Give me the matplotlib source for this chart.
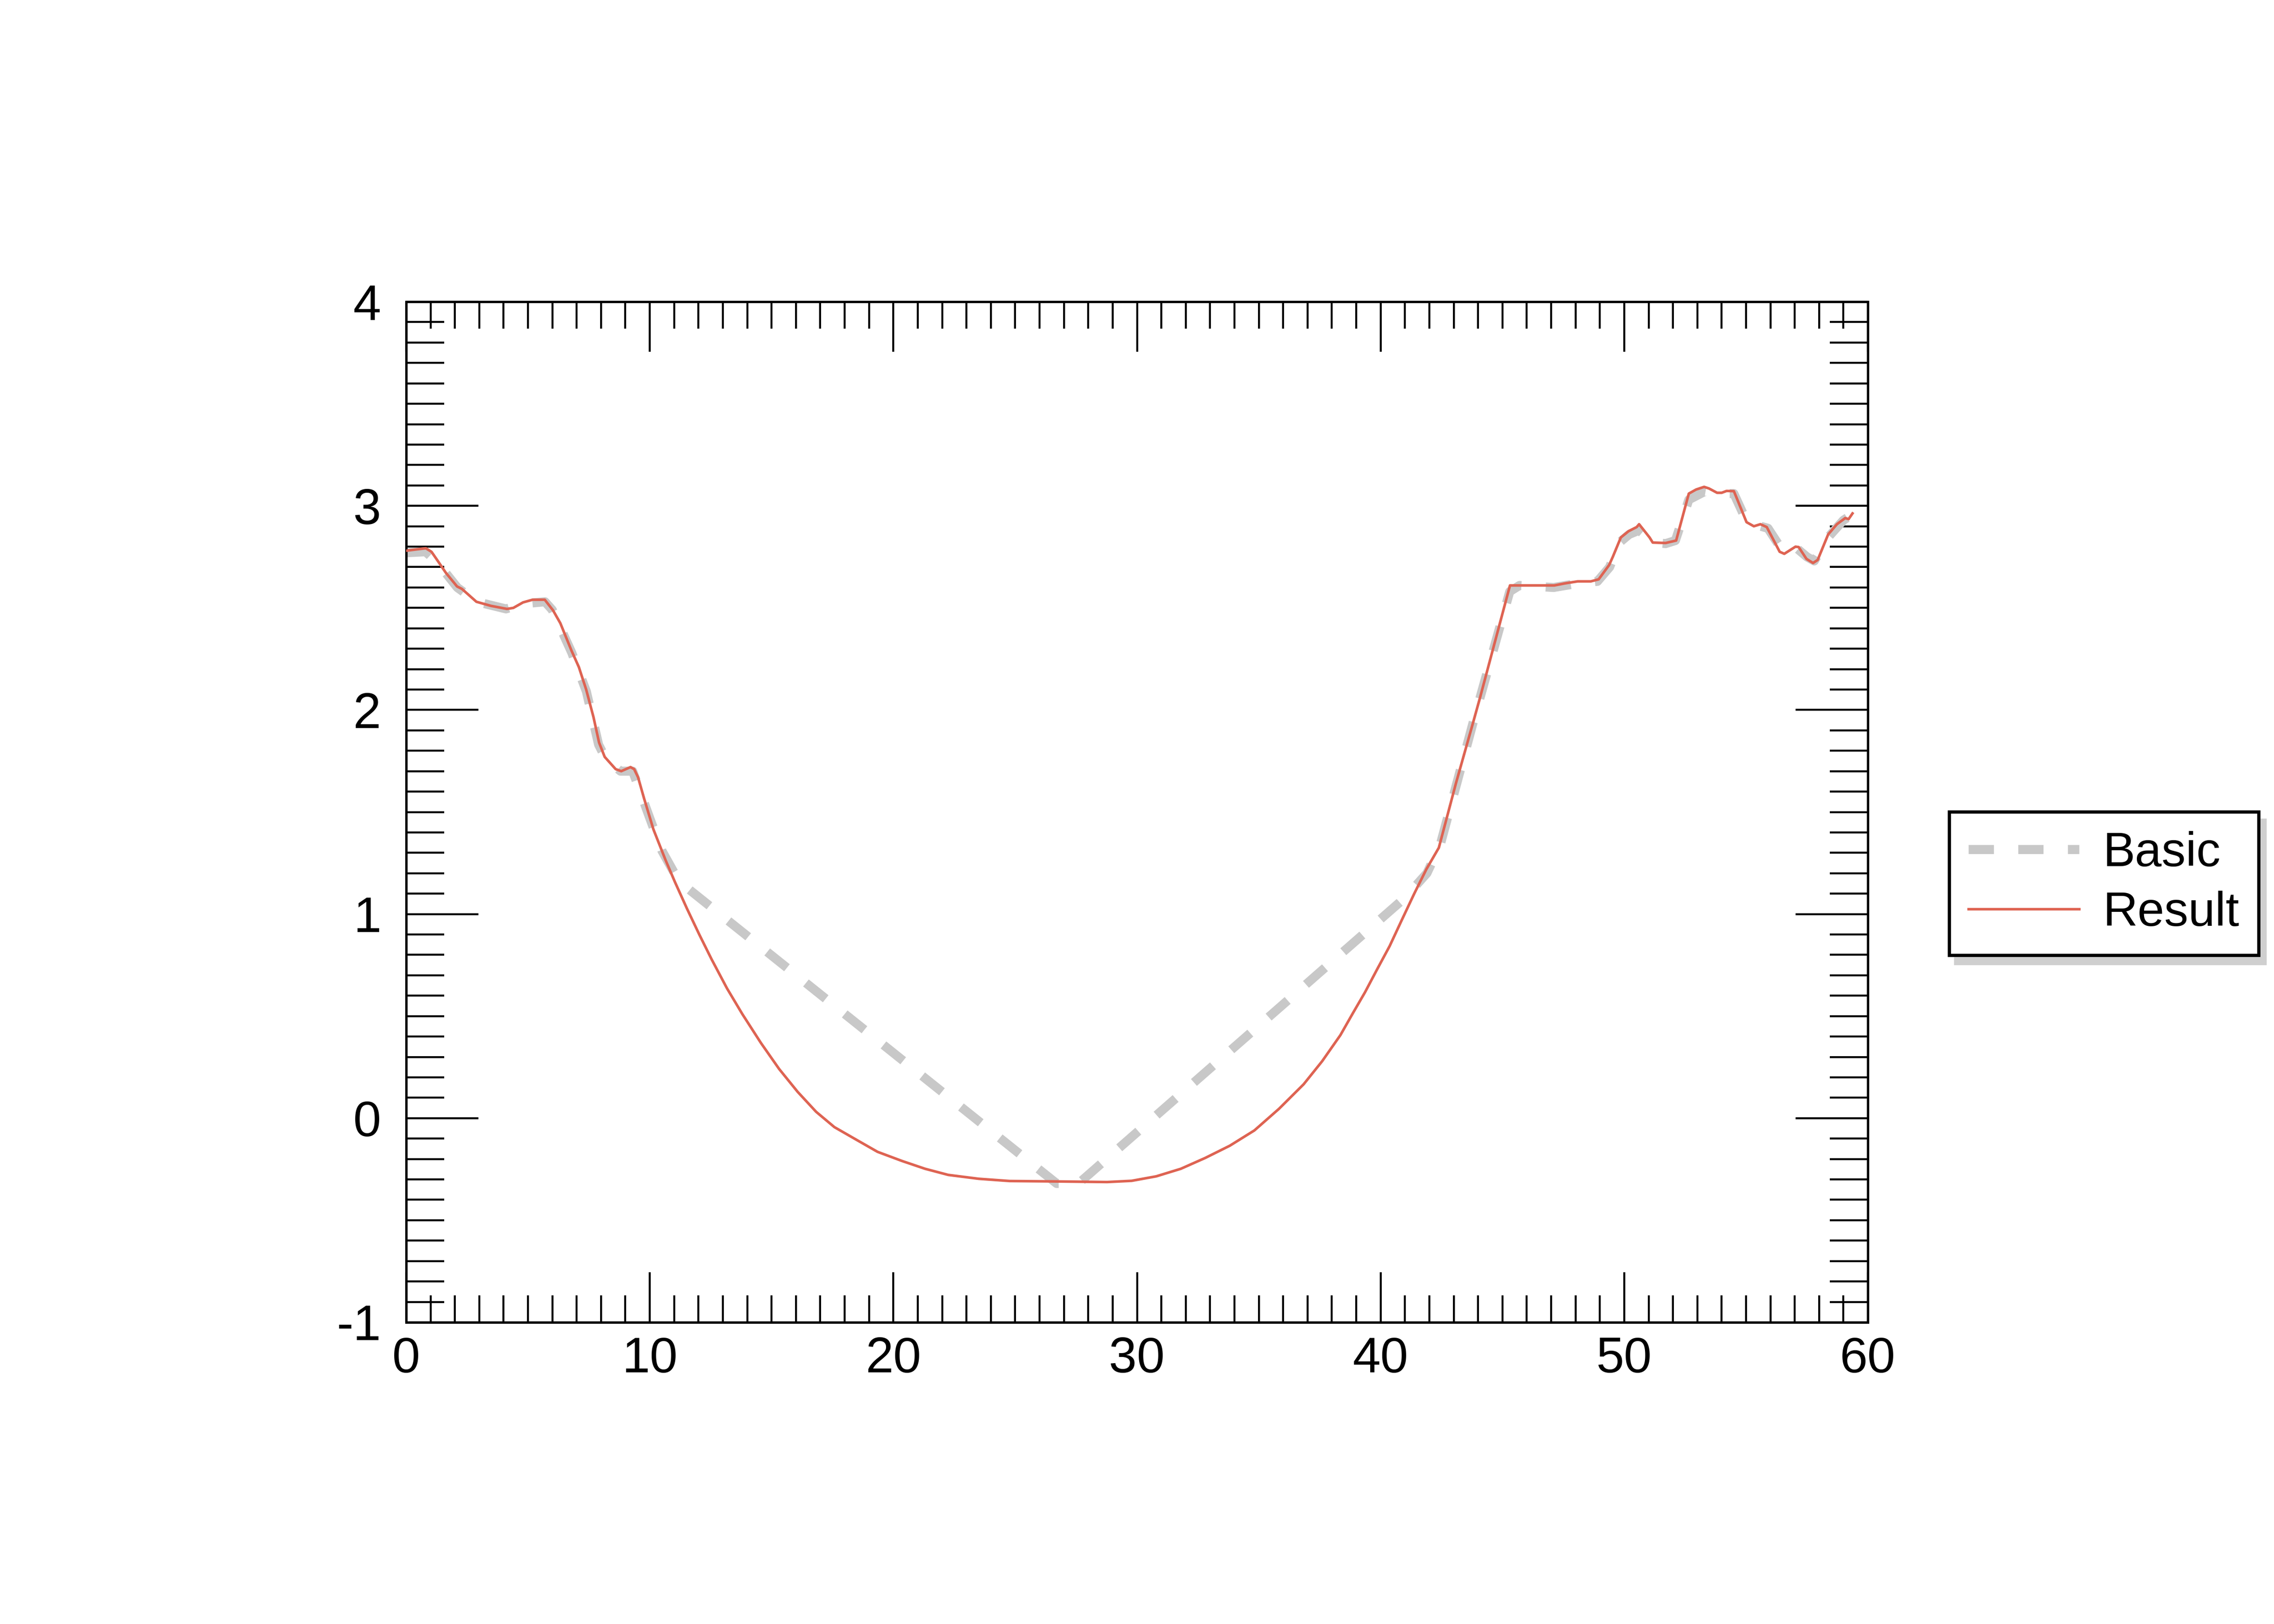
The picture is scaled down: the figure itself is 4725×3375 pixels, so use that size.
import matplotlib
matplotlib.use("Agg")
import matplotlib.pyplot as plt
from matplotlib.ticker import MultipleLocator

plt.rcParams['font.family'] = ['Liberation Sans', 'DejaVu Sans']
plt.rcParams['axes.unicode_minus'] = False

# ---- data ----
result_x = [0.0, 0.45, 0.81, 1.04, 1.30, 1.63, 2.09, 2.29, 2.885, 3.48, 4.14, 4.40, 4.80, 5.19,
            5.69, 6.03, 6.33, 6.79, 7.09, 7.39, 7.69, 7.92, 8.15, 8.60, 8.83, 9.21, 9.36, 9.52,
            9.77, 10.15, 10.65, 11.03, 11.53, 12.04, 12.54, 13.17, 13.80, 14.56, 15.31, 16.07,
            16.83, 17.58, 18.47, 19.35, 20.36, 21.3, 22.25, 23.5, 24.77, 26.66, 28.77, 29.78,
            30.79, 31.8, 32.8, 33.81, 34.82, 35.83, 36.84, 37.6, 38.35, 38.85, 39.36, 39.86,
            40.37, 40.87, 41.38, 41.88, 42.39, 43.09, 43.8,
            44.08, 45.31, 45.73, 47.13, 47.56, 48.09, 48.63, 48.95, 49.38, 49.53, 49.86, 50.18,
            50.51, 50.61, 51.04, 51.17, 51.7, 52.13, 52.65, 52.95, 53.28, 53.48, 53.81, 54.0,
            54.2, 54.5, 55.02, 55.32, 55.59, 55.85, 56.38, 56.57, 57.03, 57.16, 57.48, 57.75,
            57.94, 58.37, 58.73, 59.07, 59.21, 59.37]
result_y = [2.78, 2.787, 2.792, 2.775, 2.73, 2.672, 2.605, 2.593, 2.53, 2.51, 2.495, 2.50, 2.527, 2.54,
            2.54, 2.488, 2.425, 2.29, 2.21, 2.10, 1.965, 1.84, 1.77, 1.71, 1.70, 1.72, 1.71, 1.67,
            1.565, 1.415, 1.264, 1.158, 1.026, 0.898, 0.778, 0.636, 0.51, 0.369, 0.241, 0.129,
            0.031, -0.044, -0.105, -0.165, -0.21, -0.248, -0.278, -0.297, -0.308, -0.31, -0.313, -0.307,
            -0.285, -0.248, -0.195, -0.135, -0.06, 0.046, 0.166, 0.279, 0.407, 0.512, 0.617, 0.73,
            0.843, 0.971, 1.10, 1.22, 1.325, 1.64, 1.94,
            2.06, 2.61, 2.61, 2.61, 2.62, 2.63, 2.63, 2.64, 2.71, 2.75, 2.845, 2.876,
            2.896, 2.91, 2.845, 2.82, 2.818, 2.83, 3.06, 3.08, 3.093, 3.085, 3.064, 3.064,
            3.073, 3.072, 2.92, 2.90, 2.91, 2.896, 2.775, 2.765, 2.80, 2.798, 2.74, 2.72,
            2.735, 2.86, 2.91, 2.94, 2.935, 2.963]

basic_x = [0.0, 0.8, 1.3, 2.1, 2.9, 4.1, 4.8, 5.7, 6.0, 6.8, 7.4, 7.9, 8.2, 8.8, 9.3, 10.0,
           10.5, 11.2, 26.7, 27.6, 41.0, 41.9, 42.45, 43.8, 45.3, 45.7, 47.1, 48.1, 48.9, 49.4,
           49.8, 50.2, 50.6, 51.2, 51.7, 52.1, 52.65, 53.3, 53.8, 54.5, 55.0, 55.6, 55.9, 56.5,
           57.1, 57.5, 57.8, 58.4, 59.0, 59.4]
basic_y = [2.77, 2.775, 2.72, 2.60, 2.53, 2.495, 2.52, 2.53, 2.49, 2.28, 2.09, 1.83, 1.76, 1.70, 1.70, 1.47,
           1.31, 1.16, -0.32, -0.32, 1.08, 1.20, 1.34, 1.94, 2.58, 2.61, 2.60, 2.62, 2.63, 2.70,
           2.82, 2.86, 2.88, 2.82, 2.815, 2.83, 3.03, 3.07, 3.06, 3.06, 2.93, 2.90, 2.89, 2.78,
           2.79, 2.75, 2.73, 2.85, 2.93, 2.96]

x_ticks = [0, 10, 20, 30, 40, 50, 60]
y_ticks = [-1, 0, 1, 2, 3, 4]

# ---- figure ----
fig = plt.figure(figsize=(15.75, 11.25), dpi=300)
ax = fig.add_axes([0.1786, 0.1858, 0.8214 - 0.1786, 0.8142 - 0.1858])

ax.plot(basic_x, basic_y, color='#c8c8c8', lw=4.5, linestyle=(0, (2.8, 2.7)),
        label='Basic', zorder=2)
ax.plot(result_x, result_y, color='#de6352', lw=1.3, label='Result', zorder=3)

ax.set_xlim(0, 60)
ax.set_ylim(-1, 4)
ax.set_xticks(x_ticks)
ax.set_yticks(y_ticks)
ax.set_xticklabels([str(v) for v in x_ticks])
ax.set_yticklabels([str(v) for v in y_ticks])
ax.xaxis.set_minor_locator(MultipleLocator(1))
ax.yaxis.set_minor_locator(MultipleLocator(0.1))

for s in ax.spines.values():
    s.set_linewidth(1.2)

ax.tick_params(axis='both', which='both', direction='in', top=True, right=True,
               width=1.0, color='black', labelsize=25)
ax.tick_params(axis='x', which='major', length=25, pad=7)
ax.tick_params(axis='x', which='minor', length=13.5)
ax.tick_params(axis='y', which='major', length=36, pad=12.5)
ax.tick_params(axis='y', which='minor', length=19)

leg = fig.legend(loc='upper left', bbox_to_anchor=(4050 / 4725, 1 - 1687 / 3375),
                 bbox_transform=fig.transFigure, borderaxespad=0, fontsize=24,
                 frameon=True, fancybox=False, edgecolor='black',
                 shadow={'ox': 3, 'oy': -4, 'color': '#cfcfcf', 'alpha': 1},
                 handlelength=2.3, handletextpad=0.5, labelspacing=0.3,
                 borderpad=0.4)
leg.get_frame().set_linewidth(1.6)

fig.savefig('out.png', dpi=300, facecolor='white')
